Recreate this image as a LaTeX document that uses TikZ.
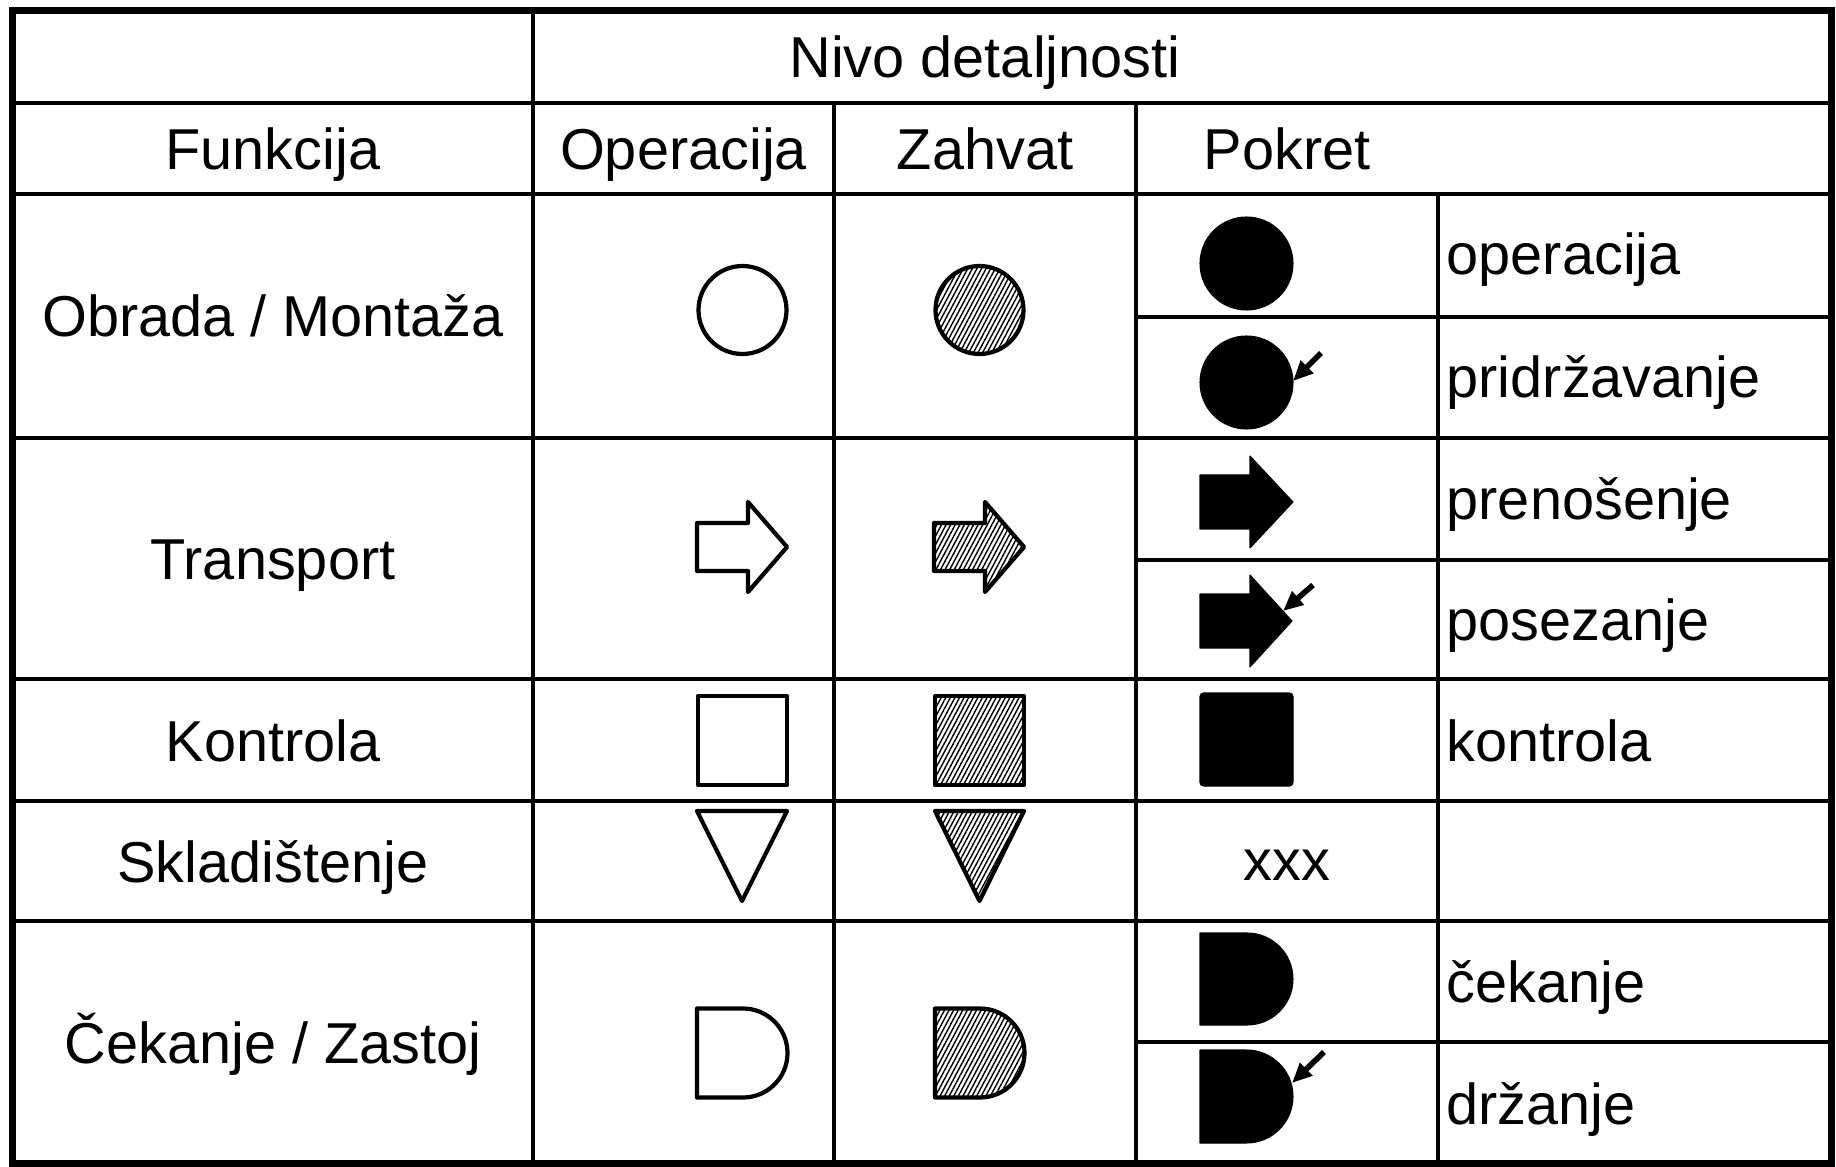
\documentclass[tikz,border=0pt]{standalone}
\usepackage{fontspec}
\setmainfont{Liberation Sans}
\usetikzlibrary{arrows.meta,patterns.meta}

\begin{document}
\begin{tikzpicture}[x=0.01cm,y=-0.01cm,
          font=\fontsize{16.4pt}{19pt}\selectfont,
          frame line/.style={line width=2pt},
          grid line/.style={line width=1pt},
          txt/.style={anchor=base,inner sep=0pt},
          kind/.style={anchor=base west,inner sep=0pt},
          sym/.style={line width=1.2pt,line join=round},
          hatch/.style={sym,pattern={Lines[angle=62,distance=1.15pt,line width=0.4pt]}},
          solid sym/.style={fill=black,draw=black,line width=0.3pt,line join=round},
          hint/.style={-{Triangle[length=0.2cm,width=0.17cm]},line width=1.6pt}]

        \useasboundingbox (0,0) rectangle (1836,1167);

        % table
        \draw[frame line] (12.5,10.5) rectangle (1831,1164);
        \draw[grid line] (12.5,103) -- (1831,103);
        \draw[grid line] (12.5,194) -- (1831,194);
        \draw[grid line] (12.5,438) -- (1831,438);
        \draw[grid line] (12.5,679) -- (1831,679);
        \draw[grid line] (12.5,801) -- (1831,801);
        \draw[grid line] (12.5,921) -- (1831,921);
        \draw[grid line] (1136,317) -- (1831,317);
        \draw[grid line] (1136,560) -- (1831,560);
        \draw[grid line] (1136,1042) -- (1831,1042);
        \draw[grid line] (533,10.5) -- (533,1164);
        \draw[grid line] (834,103) -- (834,1164);
        \draw[grid line] (1136,103) -- (1136,1164);
        \draw[grid line] (1438,194) -- (1438,1164);

        % headings
        \node[txt] (nivo) at (985,78) {Nivo detaljnosti};
        \node[txt] (funkcija) at (273,169.5) {Funkcija};
        \node[txt] (operacija) at (683.5,169.5) {Operacija};
        \node[txt] (zahvat) at (985,169.5) {Zahvat};
        \node[txt] (pokret) at (1287,169.5) {Pokret};

        \node[txt] (obrada) at (273,337) {Obrada / Montaža};
        \node[txt] (transport) at (273,579.5) {Transport};
        \node[txt] (kontrola) at (273,761) {Kontrola};
        \node[txt] (skladistenje) at (273,882) {Skladištenje};
        \node[txt] (cekanje) at (273,1063.5) {Čekanje / Zastoj};

        \node[kind] (k1) at (1446,275) {operacija};
        \node[kind] (k2) at (1446,398) {pridržavanje};
        \node[kind] (k3) at (1446,520) {prenošenje};
        \node[kind] (k4) at (1446,640.5) {posezanje};
        \node[kind] (k5) at (1446,761) {kontrola};
        \node[txt] (xxx) at (1287,880) {xxx};
        \node[kind] (k6) at (1446,1002.5) {čekanje};
        \node[kind] (k7) at (1446,1124) {držanje};

        % Operacija
        \draw[sym] (742.5,310) circle[radius=44];
        \draw[sym] (697,523) -- (748,523) -- (748,502) -- (787,547) -- (748,592) -- (748,571) -- (697,571) -- cycle;
        \draw[sym] (698,696) rectangle (787,785);
        \draw[sym] (697,811) -- (787,811) -- (742,901) -- cycle;
        \draw[sym] (697,1008.5) -- (743,1008.5) arc(-90:90:44.5) -- (697,1097.5) -- cycle;

        % Zahvat
        \draw[hatch] (979.5,310) circle[radius=44];
        \draw[hatch] (934,523) -- (985,523) -- (985,502) -- (1024,547) -- (985,592) -- (985,571) -- (934,571) -- cycle;
        \draw[hatch] (935,696) rectangle (1024,785);
        \draw[hatch] (935,811) -- (1024,811) -- (979.5,901) -- cycle;
        \draw[hatch] (935,1008.5) -- (980,1008.5) arc(-90:90:44.5) -- (935,1097.5) -- cycle;

        % Pokret
        \draw[solid sym] (1246.5,263.5) circle[radius=46.5];
        \draw[solid sym] (1246.5,382.5) circle[radius=46.5];
        \draw[solid sym] (1200,475) -- (1250,475) -- (1250,456) -- (1293,502) -- (1250,548) -- (1250,529) -- (1200,529) -- cycle;
        \draw[solid sym] (1200,594) -- (1250,594) -- (1250,575) -- (1292,621) -- (1250,667) -- (1250,648) -- (1200,648) -- cycle;
        \draw[solid sym,rounded corners=1] (1200,693) rectangle (1293,786);
        \draw[solid sym] (1200,933) -- (1247,933) arc(-90:90:46) -- (1200,1025) -- cycle;
        \draw[solid sym] (1200,1050) -- (1246.5,1050) arc(-90:90:46.5) -- (1200,1143) -- cycle;

        \coordinate (holdfrom) at (1321,353);
        \coordinate (holdto) at (1293,381);
        \coordinate (reachfrom) at (1313,585);
        \coordinate (reachto) at (1283,611);
        \coordinate (keepfrom) at (1324,1052);
        \coordinate (keepto) at (1292,1083);
        \draw[hint] (holdfrom) -- (holdto);
        \draw[hint] (reachfrom) -- (reachto);
        \draw[hint] (keepfrom) -- (keepto);
      \end{tikzpicture}
\end{document}
